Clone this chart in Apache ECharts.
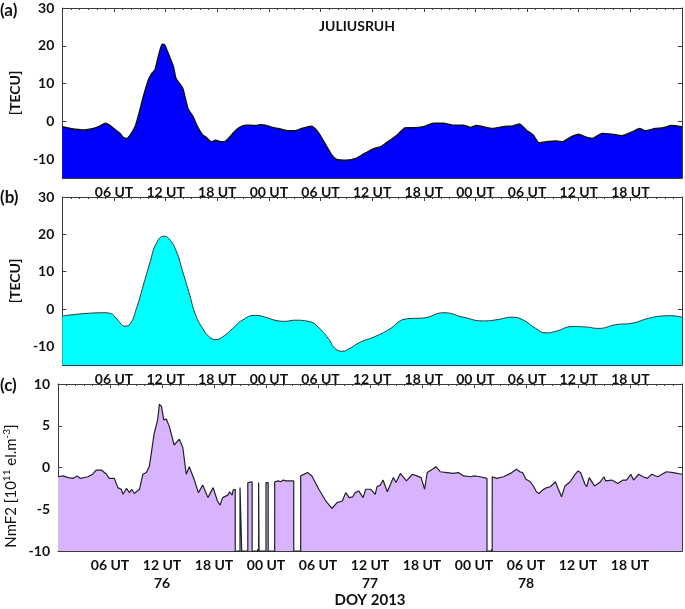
<!DOCTYPE html>
<html>
<head>
<meta charset="utf-8">
</head>
<body style="margin: 0">
<div id="container" style="width: 685px; height: 609px"></div>
<script src="https://cdn.jsdelivr.net/npm/echarts@6/dist/echarts.min.js"></script>
<script>
// (a) TEC observed, hours from 00 UT of DOY 76
const hoursA = [0, 1, 1.5, 2.5, 3.6, 4.4, 5.0, 5.6, 6.3, 6.7, 7.1, 7.5, 7.9, 8.45, 8.8, 9.4, 10.0, 10.4, 10.75, 11.1, 11.6, 11.9, 12.3, 12.9, 13.2, 13.6, 14.0, 14.6, 15.2, 15.7, 16.3, 16.7, 17.3, 17.8, 18.4, 19.0, 19.8, 20.5, 21.3, 22.4, 23.0, 23.6, 24.4, 25.1, 26.3, 27.0, 27.8, 28.9, 29.7, 30.5, 31.3, 31.8, 32.8, 34.1, 35.1, 36.2, 37.0, 38.2, 38.9, 39.9, 40.8, 42.0, 43.1, 44.3, 45.4, 46.6, 47.4, 48.1, 49.0, 50.0, 51.2, 52.4, 53.1, 53.9, 54.7, 55.4, 56.2, 57.4, 58.1, 59.1, 60.0, 60.8, 61.6, 62.7, 63.9, 65.0, 66.2, 67.1, 67.7, 68.9, 69.8, 70.8, 72];
const tecA = [-1.4, -1.9, -2.1, -2.3, -1.9, -1.2, -0.5, -1.2, -2.5, -3.2, -4.3, -4.5, -3.6, -1.4, 1.2, 6.5, 11, 12.7, 13.6, 16.7, 20.4, 20.2, 18, 14.5, 11.4, 10.1, 8.7, 3.4, 1.2, -1.4, -3.6, -4.2, -5.4, -5.0, -5.4, -5.2, -3.2, -1.7, -1.0, -1.1, -0.9, -1.0, -1.6, -1.9, -2.5, -2.5, -1.9, -1.3, -2.8, -5.8, -8.9, -10.0, -10.3, -9.8, -8.5, -7.2, -6.7, -4.8, -3.6, -1.7, -1.7, -1.4, -0.5, -0.5, -1.0, -1.0, -1.6, -1.1, -1.5, -1.9, -1.4, -1.2, -0.7, -2.3, -3.6, -5.7, -5.4, -5.2, -5.4, -4.1, -3.4, -4.1, -4.5, -3.2, -3.4, -3.8, -2.8, -1.9, -2.5, -1.9, -1.7, -1.1, -1.4];

// (b) TEC model
const hoursB = [0, 4.8, 5.6, 6.3, 7.3, 7.9, 8.6, 9.4, 10.2, 10.9, 11.8, 12.4, 13.2, 14.0, 14.8, 15.5, 16.3, 17.1, 17.8, 18.6, 19.8, 20.9, 22.4, 23.6, 24.7, 25.9, 27.0, 28.6, 29.7, 30.9, 31.8, 32.6, 33.2, 34.7, 36.2, 37.8, 40.1, 42.0, 44.3, 46.6, 48.9, 50.4, 52.3, 53.5, 55.0, 56.2, 57.3, 59.3, 60.8, 62.3, 64.3, 66.2, 68.1, 69.6, 70.7, 72];
const tecB = [-1.9, -1.0, -1.2, -2.6, -4.6, -3.9, 0.1, 6.3, 12.6, 17.5, 19.5, 18.8, 15.7, 9.9, 3.7, -1.7, -5.2, -7.5, -8.2, -7.5, -5.2, -3.0, -1.7, -2.2, -3.0, -3.3, -3.0, -3.3, -4.8, -7.9, -10.8, -11.3, -10.8, -8.8, -7.5, -5.7, -2.6, -2.4, -1.0, -2.2, -3.2, -2.9, -2.2, -2.9, -5.2, -6.4, -6.0, -4.7, -4.8, -5.2, -4.2, -3.8, -2.5, -1.9, -1.8, -2.2];

// (c) NmF2, data gaps drop to the axis floor (-10)
const hoursC = [0, 0.6, 1.15, 1.7, 1.9, 2.2, 2.6, 3.45, 4.0, 4.4, 5.0, 5.6, 5.9, 6.5, 6.9, 7.3, 7.5, 7.9, 8.25, 8.5, 8.8, 9.4, 9.8, 10.2, 10.55, 11.1, 11.5, 11.7, 11.95, 12.2, 12.5, 12.85, 13.4, 14.0, 14.4, 14.8, 15.15, 15.7, 16.2, 16.7, 17.3, 17.45, 17.9, 18.4, 18.7, 19.0, 19.6, 19.8, 20.1, 20.2, 20.45, 20.45,
  21.0, 21.0, 21.2, 21.2,
  21.9, 21.9, 22.0, 22.4, 22.4,
  23.15, 23.15, 23.2, 23.2,
  24.0, 24.0, 24.25, 24.25,
  25.0, 25.0, 25.4, 25.7, 26.0, 26.3, 26.6, 27.2, 27.2,
  28.0, 28.0, 28.8, 29.3, 30.1, 30.9, 31.6, 32.2, 32.8, 33.2, 33.6, 34.0, 34.3, 34.7, 35.2, 35.5, 36.1, 36.6, 36.8, 37.2, 37.5, 38.0, 38.4, 38.7, 39.0, 39.5, 40.2, 40.9, 41.4, 41.9, 42.0, 42.3, 42.6, 43.2, 43.6, 44.1, 44.9, 45.6, 46.2, 46.8, 47.6, 48.0, 48.7, 49.5, 49.5,
  50.1, 50.1, 50.6, 51.4, 52.2, 52.9, 53.3, 53.6, 54.0, 54.5, 54.9, 55.2, 55.5, 55.9, 56.4, 56.8, 57.0, 57.4, 57.7, 58.1, 58.5, 59.1, 59.6, 60.0, 60.3, 60.8, 61.0, 61.3, 61.9, 62.5, 63.0, 63.2, 63.9, 64.6, 65.2, 65.6, 66.1, 66.4, 67.0, 67.5, 68.0, 68.5, 69.2, 70.2, 71.0, 72];
const nmf2C = [-1.1, -1.0, -1.2, -1.3, -1.4, -1.0, -1.3, -1.1, -0.8, -0.3, -0.3, -0.8, -1.3, -1.3, -2.4, -2.6, -3.2, -2.5, -3.0, -2.6, -3.1, -2.6, -0.8, -0.6, 0.2, 4.1, 5.7, 7.6, 7.3, 5.7, 5.8, 4.9, 2.7, 3.4, 2.4, -0.8, 0.1, -1.4, -3.0, -2.1, -3.6, -3.6, -2.4, -4.0, -4.5, -3.6, -3.3, -2.9, -3.3, -2.7, -2.6, -10,
  -10, -2.4, -2.4, -10,
  -10, -1.8, -1.6, -1.7, -10,
  -10, -1.8, -1.8, -10,
  -10, -1.8, -1.8, -10,
  -10, -1.7, -1.6, -1.7, -1.5, -1.6, -1.6, -1.6, -10,
  -10, -1.0, -0.6, -1.0, -2.6, -4.0, -4.9, -4.2, -4.0, -3.0, -3.6, -3.5, -3.0, -2.8, -3.6, -2.6, -2.6, -3.2, -2.3, -2.1, -1.5, -2.9, -1.9, -1.2, -1.8, -0.7, -1.6, -0.8, -1.0, -1.2, -1.0, -2.6, -0.6, -0.2, 0.1, -0.5, -0.6, -0.7, -0.6, -1.0, -1.1, -1.0, -1.1, -1.3, -10,
  -10, -1.1, -1.3, -1.1, -0.7, -0.2, -0.5, -0.6, -1.4, -1.7, -2.3, -2.9, -3.1, -2.7, -2.4, -2.3, -2.4, -1.7, -2.5, -3.5, -2.2, -1.7, -0.9, -0.4, -0.6, -2.0, -2.3, -1.2, -2.2, -1.8, -1.1, -1.6, -1.5, -1.9, -1.5, -1.5, -0.8, -1.5, -0.8, -1.1, -1.3, -0.8, -1.1, -0.5, -0.6, -0.8];

// day numbers printed under the last panel
const dayLabels = {12: '76', 36: '77', 54: '78'};

const font = 'Lato, "Open Sans", sans-serif';
const frame = '#3a3a3a';

function zip(xs, ys) {
  return xs.map((x, i) => [x, ys[i]]);
}

function utLabel(v) {
  if (v <= 0 || v >= 72) return '';
  const hh = v % 24;
  return (hh < 10 ? '0' : '') + hh + ' UT';
}

const grids = [
  {left: 58, right: 1, top: 8, height: 170},
  {left: 58, right: 1, top: 197, height: 168},
  {left: 58, right: 1, top: 384, height: 168}
];

let xAxes = [], yAxes = [];
grids.forEach((g, i) => {
  let bottom = {
    type: 'value', gridIndex: i, position: 'bottom', min: 0, max: 72, interval: 6,
    axisLine: {onZero: false, lineStyle: {color: frame, width: 1}},
    axisTick: {inside: true, length: 4, lineStyle: {color: frame}},
    minorTick: {show: true, splitNumber: 6, length: 2, lineStyle: {color: frame}},
    splitLine: {show: false},
    axisLabel: {
      margin: 5, color: '#111', fontFamily: font, fontWeight: 'bold', fontSize: 14,
      lineHeight: 18,
      formatter: v => (i === 2 && dayLabels[v]) ? utLabel(v) + '\n' + dayLabels[v] : utLabel(v)
    }
  };
  if (i === 2) {
    bottom.name = 'DOY 2013';
    bottom.nameLocation = 'middle';
    bottom.nameGap = 40;
    bottom.nameTextStyle = {color: '#111', fontFamily: font, fontWeight: 'bold', fontSize: 15};
  }
  xAxes.push(bottom);
  xAxes.push({
    type: 'value', gridIndex: i, position: 'top', min: 0, max: 72, interval: 6,
    axisLine: {onZero: false, lineStyle: {color: frame, width: 1}},
    axisTick: {inside: true, length: 4, lineStyle: {color: frame}},
    minorTick: {show: true, splitNumber: 6, length: 2, lineStyle: {color: frame}},
    splitLine: {show: false},
    axisLabel: {show: false}
  });
  let ticksY = i < 2 ? [-10, 0, 10, 20, 30] : [-10, -5, 0, 5, 10];
  let left = {
    type: 'value', gridIndex: i, position: 'left',
    min: i < 2 ? -15 : -10, max: i < 2 ? 30 : 10,
    axisLine: {show: true, onZero: false, lineStyle: {color: frame, width: 1}},
    axisTick: {show: true, inside: true, length: 4, customValues: ticksY, lineStyle: {color: frame}},
    splitLine: {show: false},
    axisLabel: {customValues: ticksY, margin: 8, color: '#111', fontFamily: font, fontWeight: 'bold', fontSize: 14}
  };
  if (i < 2) {
    left.name = '[TECU]';
    left.nameLocation = 'middle';
    left.nameRotate = 90;
    left.nameGap = 34;
    left.nameTextStyle = {color: '#111', fontFamily: font, fontWeight: 'bold', fontSize: 14};
  }
  yAxes.push(left);
  yAxes.push({
    type: 'value', gridIndex: i, position: 'right',
    min: i < 2 ? -15 : -10, max: i < 2 ? 30 : 10,
    axisLine: {show: true, onZero: false, lineStyle: {color: frame, width: 1}},
    axisTick: {show: true, inside: true, length: 4, customValues: ticksY, lineStyle: {color: frame}},
    splitLine: {show: false},
    axisLabel: {show: false}
  });
});

function areaSeries(idx, data, fill, lineColor, lw, smooth) {
  return {
    type: 'line', xAxisIndex: idx * 2, yAxisIndex: idx * 2,
    data: data, showSymbol: false, smooth: smooth, z: 1,
    lineStyle: {color: lineColor, width: lw},
    areaStyle: {color: fill, opacity: 1, origin: 'start'}
  };
}

const chart = echarts.init(document.getElementById('container'));
chart.setOption({
  animation: false,
  backgroundColor: '#fff',
  grid: grids,
  xAxis: xAxes,
  yAxis: yAxes,
  series: [
    areaSeries(0, zip(hoursA, tecA), '#0000ff', '#111', 1.4, 0.2),
    areaSeries(1, zip(hoursB, tecB), '#00ffff', '#333', 1, 0.5),
    areaSeries(2, zip(hoursC, nmf2C), '#d8b4fe', '#222', 1.2, false)
  ],
  graphic: [
    {type: 'text', left: 0, top: 2, style: {text: '(a)', font: 'bold 17px ' + font, fill: '#111'}},
    {type: 'text', left: 0, top: 189, style: {text: '(b)', font: 'bold 17px ' + font, fill: '#111'}},
    {type: 'text', left: 0, top: 377, style: {text: '(c)', font: 'bold 17px ' + font, fill: '#111'}},
    {type: 'text', left: 319, top: 19, style: {text: 'JULIUSRUH', font: 'bold 14px ' + font, fill: '#111'}},
    {
      type: 'text', x: 11, y: 486, rotation: Math.PI / 2,
      style: {
        text: '{a|NmF2 [10}{s|11}{a| el.m}{s|-3}{a|]}',
        align: 'center', verticalAlign: 'middle',
        rich: {
          a: {font: '15px ' + font, fill: '#111', lineHeight: 18},
          s: {font: '10px ' + font, fill: '#111', lineHeight: 18, verticalAlign: 'top', padding: [0, 0, 8, 0]}
        }
      }
    }
  ]
});
</script>
</body>
</html>
